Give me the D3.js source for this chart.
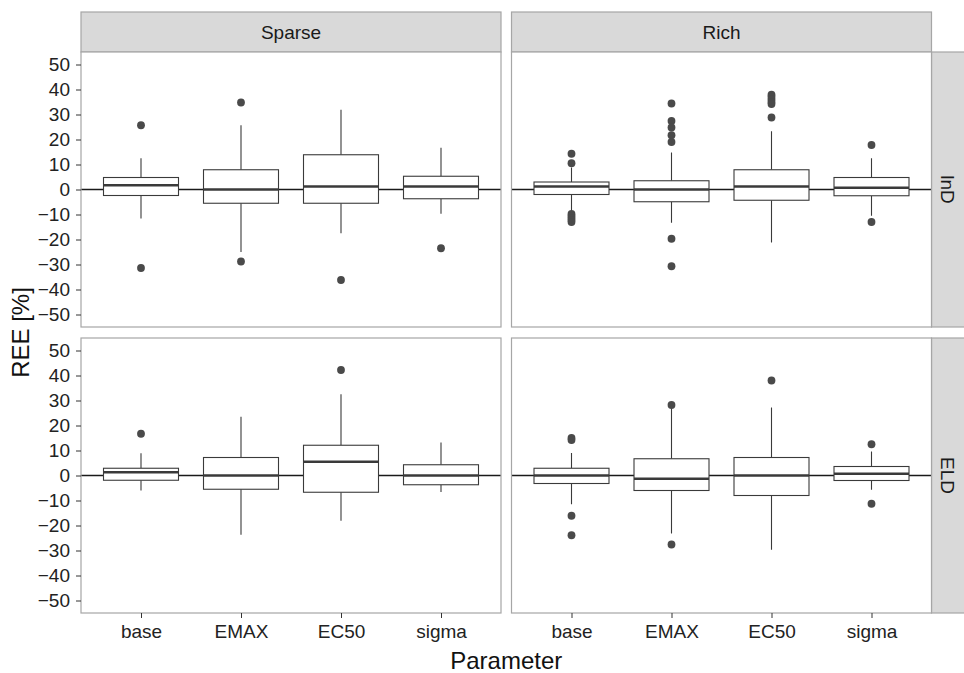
<!DOCTYPE html>
<html>
<head>
<meta charset="utf-8">
<script src="https://cdn.jsdelivr.net/npm/d3@7"></script>
<style>
  body { margin: 0; background: #fff; }
  svg text { font-family: "Liberation Sans", Arial, sans-serif; }
</style>
</head>
<body>
<div id="chart"></div>
<script>
// facets and categories
let designs = ["Sparse", "Rich"];
let populations = ["lnD", "ELD"];
let params = ["base", "EMAX", "EC50", "sigma"];
let y_ticks = [-50, -40, -30, -20, -10, 0, 10, 20, 30, 40, 50];

// box stats per panel: [lower whisker, q1, median, q3, upper whisker], outliers
let sparse_lnd_stats = [
    [-11.6, -2.4, 1.7, 4.8, 12.5],
    [-25.0, -5.5, 0.0, 7.9, 25.7],
    [-17.5, -5.5, 1.2, 13.9, 31.9],
    [-9.7, -3.7, 1.2, 5.3, 16.7]
];
let sparse_lnd_out = [
    [25.7, -31.4],
    [34.8, -28.8],
    [-36.2],
    [-23.5]
];
let rich_lnd_stats = [
    [-8.6, -2.0, 1.2, 3.0, 8.8],
    [-13.3, -4.9, 0.0, 3.5, 14.8],
    [-21.2, -4.3, 1.2, 7.9, 23.3],
    [-10.5, -2.5, 0.7, 4.8, 12.5]
];
let rich_lnd_out = [
    [14.3, 10.5, -9.8, -10.6, -11.4, -12.2, -13.0],
    [34.4, 27.4, 24.8, 21.7, 19.0, -19.7, -30.7],
    [37.9, 37.0, 36.0, 35.0, 34.2, 28.8],
    [17.8, -13.0]
];
let sparse_eld_stats = [
    [-6.0, -1.9, 1.3, 2.9, 8.9],
    [-23.7, -5.5, 0.0, 7.2, 23.5],
    [-18.1, -6.7, 5.5, 12.1, 32.5],
    [-6.6, -3.7, 0.0, 4.3, 13.2]
];
let sparse_eld_out = [
    [16.7],
    [],
    [42.2],
    []
];
let rich_eld_stats = [
    [-11.5, -3.2, 0.0, 2.9, 9.0],
    [-23.2, -6.0, -1.3, 6.7, 27.0],
    [-29.7, -8.0, 0.0, 7.2, 27.2],
    [-5.7, -2.0, 0.7, 3.6, 9.6]
];
let rich_eld_out = [
    [15.0, 14.2, -16.1, -23.9],
    [28.2, -27.6],
    [38.0],
    [12.5, -11.3]
];

let panels = [
    {design: "Sparse", pop: "lnD", stats: sparse_lnd_stats, out: sparse_lnd_out},
    {design: "Rich", pop: "lnD", stats: rich_lnd_stats, out: rich_lnd_out},
    {design: "Sparse", pop: "ELD", stats: sparse_eld_stats, out: sparse_eld_out},
    {design: "Rich", pop: "ELD", stats: rich_eld_stats, out: rich_eld_out}
];

let chart_width = 964;
let chart_height = 673;

let col_x = [81, 511.5];
let panel_width = 420;
let row_y = [52, 338];
let panel_height = 275;
let strip_top = 12;
let strip_right_width = 34;

let box_color = "#3a3a3a";
let point_color = "#4a4a4a";
let border_color = "#a6a6a6";
let strip_fill = "#d9d9d9";
let small_font = "19px";
let title_font = "24px";

let svg = d3.select("#chart")
    .append("svg")
    .attr("width", chart_width)
    .attr("height", chart_height);

// top strips
designs.forEach(function(d, i) {
    svg.append("rect")
        .attr("x", col_x[i]).attr("y", strip_top)
        .attr("width", panel_width).attr("height", row_y[0] - strip_top)
        .attr("fill", strip_fill).attr("stroke", border_color).attr("stroke-width", 1.2);
    svg.append("text")
        .attr("x", col_x[i] + panel_width / 2).attr("y", (strip_top + row_y[0]) / 2)
        .attr("text-anchor", "middle").attr("dominant-baseline", "central")
        .attr("font-size", small_font).attr("fill", "#1a1a1a")
        .text(d);
});

// right strips
populations.forEach(function(p, j) {
    let sx = col_x[1] + panel_width;
    svg.append("rect")
        .attr("x", sx).attr("y", row_y[j])
        .attr("width", strip_right_width).attr("height", panel_height)
        .attr("fill", strip_fill).attr("stroke", border_color).attr("stroke-width", 1.2);
    svg.append("text")
        .attr("transform", "translate(" + (sx + 16) + "," + (row_y[j] + panel_height / 2) + ") rotate(90)")
        .attr("text-anchor", "middle").attr("dominant-baseline", "central")
        .attr("font-size", small_font).attr("fill", "#1a1a1a")
        .text(p);
});

panels.forEach(function(panel) {
    let ci = designs.indexOf(panel.design);
    let ri = populations.indexOf(panel.pop);

    let g = svg.append("g")
        .attr("transform", "translate(" + col_x[ci] + "," + row_y[ri] + ")");

    let xScale = d3.scalePoint()
        .domain(params)
        .range([0, panel_width])
        .padding(0.6);
    let step = xScale.step();
    let box_w = step * 0.75;

    let yScale = d3.scaleLinear()
        .domain([-55, 55])
        .range([panel_height, 0]);

    g.append("rect")
        .attr("width", panel_width).attr("height", panel_height)
        .attr("fill", "white");

    // reference line at zero
    g.append("line")
        .attr("x1", 0).attr("x2", panel_width)
        .attr("y1", yScale(0)).attr("y2", yScale(0))
        .attr("stroke", "#1a1a1a").attr("stroke-width", 1.3);

    params.forEach(function(p, k) {
        let s = panel.stats[k];
        let cx = xScale(p);

        g.append("line")
            .attr("x1", cx).attr("x2", cx)
            .attr("y1", yScale(s[3])).attr("y2", yScale(s[4]))
            .attr("stroke", box_color).attr("stroke-width", 1.1);
        g.append("line")
            .attr("x1", cx).attr("x2", cx)
            .attr("y1", yScale(s[1])).attr("y2", yScale(s[0]))
            .attr("stroke", box_color).attr("stroke-width", 1.1);

        g.append("rect")
            .attr("x", cx - box_w / 2).attr("y", yScale(s[3]))
            .attr("width", box_w).attr("height", yScale(s[1]) - yScale(s[3]))
            .attr("fill", "white").attr("stroke", box_color).attr("stroke-width", 1.1);

        g.append("line")
            .attr("x1", cx - box_w / 2).attr("x2", cx + box_w / 2)
            .attr("y1", yScale(s[2])).attr("y2", yScale(s[2]))
            .attr("stroke", box_color).attr("stroke-width", 2.3);

        g.selectAll(".pt" + k)
            .data(panel.out[k])
            .enter()
            .append("circle")
            .attr("cx", cx)
            .attr("cy", d => yScale(d))
            .attr("r", 3.9)
            .attr("fill", point_color);
    });

    g.append("rect")
        .attr("width", panel_width).attr("height", panel_height)
        .attr("fill", "none").attr("stroke", border_color).attr("stroke-width", 1.2);

    if (ci === 0) {
        let y_axis = g.append("g").call(d3.axisLeft(yScale).tickValues(y_ticks).tickSize(5).tickPadding(6));
        y_axis.select(".domain").remove();
        y_axis.selectAll("line").attr("stroke", "#333");
        y_axis.selectAll("text").attr("font-size", small_font).attr("fill", "#222")
            .style("font-family", "'Liberation Sans', Arial, sans-serif");
    }
    if (ri === 1) {
        let x_axis = g.append("g")
            .attr("transform", "translate(0," + panel_height + ")")
            .call(d3.axisBottom(xScale).tickSize(5).tickPadding(7));
        x_axis.select(".domain").remove();
        x_axis.selectAll("line").attr("stroke", "#333");
        x_axis.selectAll("text").attr("font-size", small_font).attr("fill", "#222")
            .style("font-family", "'Liberation Sans', Arial, sans-serif");
    }
});

// axis titles
svg.append("text")
    .attr("x", (col_x[0] + col_x[1] + panel_width) / 2).attr("y", 660)
    .attr("text-anchor", "middle").attr("dominant-baseline", "central")
    .attr("font-size", title_font).attr("fill", "#111")
    .text("Parameter");

svg.append("text")
    .attr("transform", "translate(20," + ((row_y[0] + row_y[1] + panel_height) / 2) + ") rotate(-90)")
    .attr("text-anchor", "middle").attr("dominant-baseline", "central")
    .attr("font-size", title_font).attr("fill", "#111")
    .text("REE [%]");
</script>
</body>
</html>
